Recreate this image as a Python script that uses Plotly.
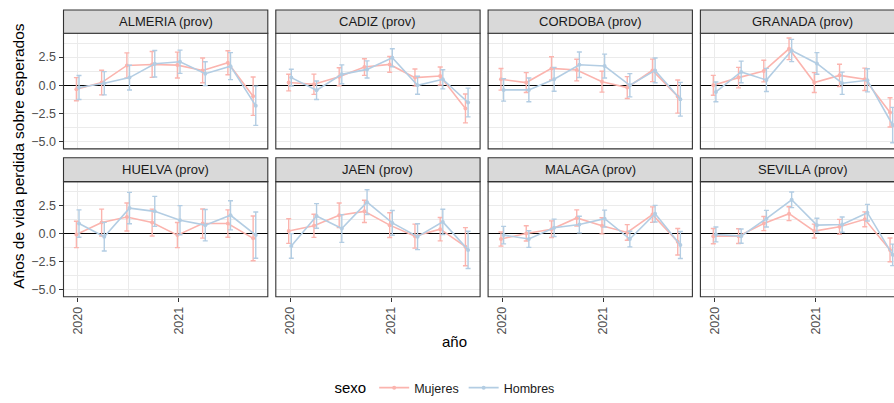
import plotly.graph_objects as go

# ---------------- data ----------------
provincias = ["ALMERIA (prov)", "CADIZ (prov)", "CORDOBA (prov)", "GRANADA (prov)",
              "HUELVA (prov)", "JAEN (prov)", "MALAGA (prov)", "SEVILLA (prov)"]
periodos = [2020.0, 2020.25, 2020.5, 2020.75, 2021.0, 2021.25, 2021.5, 2021.75]
sexos = ["Mujeres", "Hombres"]
x_tick_vals = [2020, 2021]
x_tick_text = ["2020", "2021"]
y_tick_vals = [-5.0, -2.5, 0.0, 2.5]
y_tick_text = ["\u22125.0", "\u22122.5", "0.0", "2.5"]

muj_almeria = [-0.35, 0.24, 1.76, 1.85, 1.79, 1.32, 2.0, -0.97]
muj_err_almeria = [1.03, 1.09, 1.12, 1.15, 1.15, 1.1, 1.07, 1.7]
hom_almeria = [-0.2, 0.18, 0.68, 1.91, 2.09, 1.03, 1.7, -1.82]
hom_err_almeria = [1.07, 1.03, 1.1, 1.18, 1.03, 1.06, 1.2, 1.74]

muj_cadiz = [0.24, 0.09, 0.76, 1.62, 1.85, 0.68, 0.82, -2.06]
muj_err_cadiz = [0.74, 0.9, 0.8, 0.74, 0.7, 0.76, 0.8, 1.28]
hom_cadiz = [0.68, -0.44, 0.97, 1.41, 2.44, 0.0, 0.53, -1.53]
hom_err_cadiz = [0.74, 0.82, 0.84, 0.76, 0.8, 0.8, 0.85, 1.28]

muj_cordoba = [0.53, 0.24, 1.5, 1.35, 0.32, -0.2, 1.32, -1.0]
muj_err_cordoba = [0.96, 0.88, 1.03, 0.96, 0.93, 0.97, 1.0, 1.47]
hom_cordoba = [-0.41, -0.41, 0.53, 1.82, 1.71, 0.0, 1.32, -1.24]
hom_err_cordoba = [1.0, 1.06, 1.06, 1.13, 1.06, 1.03, 1.1, 1.5]

muj_granada = [0.0, 0.68, 1.26, 3.24, 0.24, 0.88, 0.53, -2.41]
muj_err_granada = [0.88, 0.91, 0.96, 0.96, 0.88, 0.99, 0.99, 1.3]
hom_granada = [-0.59, 1.18, 0.47, 3.09, 1.94, 0.18, 0.44, -3.53]
hom_err_granada = [0.88, 0.96, 1.03, 0.99, 0.96, 0.99, 1.03, 1.57]

muj_huelva = [-0.09, 0.97, 1.47, 0.97, -0.15, 0.88, 0.88, -0.44]
muj_err_huelva = [1.18, 1.2, 1.25, 1.2, 1.12, 1.3, 1.22, 2.0]
hom_huelva = [0.88, -0.29, 2.26, 1.97, 1.18, 0.74, 1.62, -0.15]
hom_err_huelva = [1.22, 1.28, 1.4, 1.34, 1.3, 1.4, 1.3, 2.06]

muj_jaen = [0.21, 0.68, 1.62, 1.97, 0.74, -0.24, 0.38, -1.18]
muj_err_jaen = [1.1, 1.03, 1.1, 0.99, 1.1, 1.07, 1.04, 1.7]
hom_jaen = [-1.12, 1.56, 0.44, 2.79, 0.94, -0.29, 1.03, -1.47]
hom_err_jaen = [1.1, 1.1, 1.24, 1.1, 1.1, 1.15, 1.13, 1.66]

muj_malaga = [-0.5, 0.0, 0.38, 1.38, 0.68, 0.09, 1.68, -0.74]
muj_err_malaga = [0.63, 0.68, 0.74, 0.72, 0.72, 0.7, 0.69, 1.18]
hom_malaga = [-0.15, -0.5, 0.5, 0.79, 1.32, -0.5, 1.76, -1.03]
hom_err_malaga = [0.78, 0.74, 0.78, 0.74, 0.76, 0.7, 0.74, 1.2]

muj_sevilla = [-0.24, -0.24, 0.88, 1.76, 0.21, 0.59, 1.26, -1.47]
muj_err_sevilla = [0.68, 0.66, 0.63, 0.62, 0.62, 0.66, 0.66, 1.06]
hom_sevilla = [-0.09, -0.24, 1.32, 3.0, 0.74, 0.79, 1.85, -1.91]
hom_err_sevilla = [0.66, 0.63, 0.74, 0.7, 0.62, 0.68, 0.74, 0.96]

mujeres = [muj_almeria, muj_cadiz, muj_cordoba, muj_granada,
           muj_huelva, muj_jaen, muj_malaga, muj_sevilla]
mujeres_err = [muj_err_almeria, muj_err_cadiz, muj_err_cordoba, muj_err_granada,
               muj_err_huelva, muj_err_jaen, muj_err_malaga, muj_err_sevilla]
hombres = [hom_almeria, hom_cadiz, hom_cordoba, hom_granada,
           hom_huelva, hom_jaen, hom_malaga, hom_sevilla]
hombres_err = [hom_err_almeria, hom_err_cadiz, hom_err_cordoba, hom_err_granada,
               hom_err_huelva, hom_err_jaen, hom_err_malaga, hom_err_sevilla]

# ---------------- layout geometry ----------------
W, H = 894, 403
COLORS = {"Mujeres": "#FBB4AE", "Hombres": "#B3CDE3"}
DODGE = 0.013
col_left = [63.5, 275.8, 488.1, 700.4]
panel_w = 204.3
px_per_year = 101.0
x0_off = 14.2
row_strip_top = [10.0, 159.0]
row_plot_top = [33.5, 183.0]
row_plot_bot = [150.0, 299.0]
Y_RANGE = [-5.65, 4.62]
FONT = "Liberation Sans, Arial, sans-serif"

def fx(px):
    return px / W

def fy(py):
    return 1 - py / H

fig = go.Figure()
layout_axes = {}
shapes = []
annotations = []

for i, prov in enumerate(provincias):
    r, c = divmod(i, 4)
    n = i + 1
    xs = "" if n == 1 else str(n)
    left = col_left[c]
    right = min(left + panel_w, W)
    xr0 = 2020 - x0_off / px_per_year
    xr1 = 2020 + (right - left - x0_off) / px_per_year

    for sexo, vals, errs, dx in [("Mujeres", mujeres[i], mujeres_err[i], -DODGE),
                                 ("Hombres", hombres[i], hombres_err[i], DODGE)]:
        fig.add_trace(go.Scatter(
            x=[p + dx for p in periodos], y=vals,
            mode="lines+markers", name=sexo, legendgroup=sexo,
            showlegend=(i == 0),
            line=dict(color=COLORS[sexo], width=1.6),
            marker=dict(color=COLORS[sexo], size=4),
            error_y=dict(type="data", array=errs, visible=True,
                         color=COLORS[sexo], thickness=1.4, width=2.5),
            xaxis="x" + xs, yaxis="y" + xs,
        ))

    bottom = r == 1
    first = c == 0
    layout_axes["xaxis" + xs] = dict(
        domain=[fx(left), fx(right)], anchor="y" + xs, range=[xr0, xr1],
        tickmode="array", tickvals=x_tick_vals, ticktext=x_tick_text,
        showticklabels=bottom, ticks="outside" if bottom else "",
        ticklen=4, tickwidth=1, tickcolor="#333333", tickangle=-90,
        tickfont=dict(family=FONT, size=12.5, color="#4D4D4D"),
        showgrid=True, gridcolor="#EBEBEB", gridwidth=1.1,
        minor=dict(tickmode="array", tickvals=[2019.5, 2020.5, 2021.5],
                   showgrid=True, gridcolor="#EBEBEB", gridwidth=0.6, ticks=""),
        zeroline=False, showline=False, automargin=False, fixedrange=True,
    )
    layout_axes["yaxis" + xs] = dict(
        domain=[fy(row_plot_bot[r]), fy(row_plot_top[r])], anchor="x" + xs,
        range=Y_RANGE, tickmode="array", tickvals=y_tick_vals, ticktext=y_tick_text,
        showticklabels=first, ticks="outside" if first else "",
        ticklen=4, tickwidth=1, tickcolor="#333333",
        tickfont=dict(family=FONT, size=12.5, color="#4D4D4D"),
        showgrid=True, gridcolor="#EBEBEB", gridwidth=1.1,
        minor=dict(tickmode="array", tickvals=[-6.25, -3.75, -1.25, 1.25, 3.75],
                   showgrid=True, gridcolor="#EBEBEB", gridwidth=0.6, ticks=""),
        zeroline=True, zerolinecolor="#000000", zerolinewidth=1.1,
        showline=False, automargin=False, fixedrange=True,
    )

    # panel border (right side may be cropped)
    rb = right if right < W else W + 5
    shapes.append(dict(type="rect", xref="paper", yref="paper",
                       x0=fx(left), x1=fx(rb), y0=fy(row_plot_bot[r]), y1=fy(row_plot_top[r]),
                       line=dict(color="#333333", width=1.1), fillcolor="rgba(0,0,0,0)",
                       layer="above"))
    # strip
    shapes.append(dict(type="rect", xref="paper", yref="paper",
                       x0=fx(left), x1=fx(rb), y0=fy(row_plot_top[r]), y1=fy(row_strip_top[r]),
                       line=dict(color="#333333", width=1.1), fillcolor="#D9D9D9",
                       layer="above"))
    annotations.append(dict(text=prov, xref="paper", yref="paper",
                            x=fx(left + panel_w / 2), y=fy((row_strip_top[r] + row_plot_top[r]) / 2),
                            xanchor="center", yanchor="middle", showarrow=False,
                            font=dict(family=FONT, size=13, color="#1A1A1A")))

annotations.append(dict(text="Años de vida perdida sobre esperados", xref="paper", yref="paper",
                        x=fx(19), y=fy(157), xanchor="center", yanchor="middle",
                        textangle=-90, showarrow=False,
                        font=dict(family=FONT, size=15.5, color="#000000")))
annotations.append(dict(text="año", xref="paper", yref="paper",
                        x=fx(454), y=fy(344), xanchor="center", yanchor="middle",
                        showarrow=False, font=dict(family=FONT, size=15, color="#000000")))

fig.update_layout(
    template="none",
    width=W, height=H,
    margin=dict(l=0, r=0, t=0, b=0),
    paper_bgcolor="white", plot_bgcolor="white",
    shapes=shapes, annotations=annotations,
    showlegend=True,
    legend=dict(orientation="h", x=fx(446), xanchor="center", y=fy(391), yanchor="middle",
                title=dict(text="sexo", font=dict(family=FONT, size=15, color="#000000")),
                font=dict(family=FONT, size=12.5, color="#1A1A1A"),
                itemwidth=30, bgcolor="rgba(0,0,0,0)", traceorder="normal"),
    **layout_axes,
)

fig.write_html("out.html")
